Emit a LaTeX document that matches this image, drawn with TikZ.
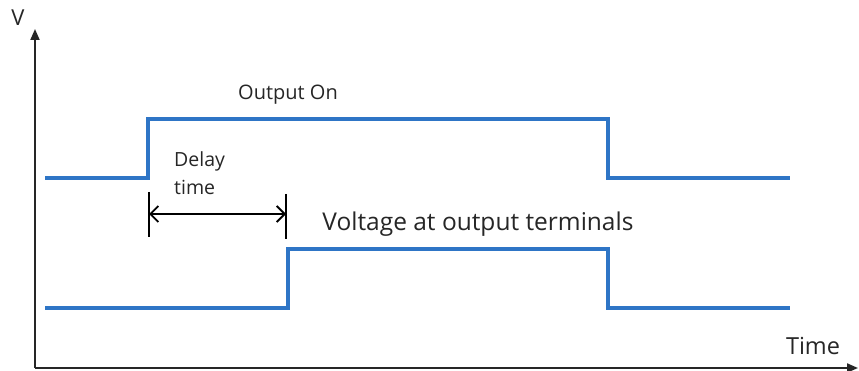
\documentclass[tikz,border=0pt]{standalone}
\usepackage{fontspec}
\setmainfont{Open Sans}
\usetikzlibrary{arrows.meta}
\definecolor{wave}{HTML}{2E75C6}
\definecolor{ink}{HTML}{262626}

\begin{document}
\begin{tikzpicture}[x=1pt,y=-1pt,
  axis/.style={draw=ink,line width=2pt,-{Triangle[length=11pt,width=9pt]}},
  sig/.style={draw=wave,line width=3.2pt,line join=miter},
  tick/.style={draw=black,line width=1.8pt},
  span/.style={draw=black,line width=1.8pt,
               {Straight Barb[length=8pt,width=16pt]}-{Straight Barb[length=8pt,width=16pt]}},
  lbl/.style={text=ink,inner sep=0pt,font=\fontsize{19.5}{28}\selectfont},
  big/.style={lbl,font=\fontsize{24.5}{28}\selectfont}]

\useasboundingbox (0,0) rectangle (859,371);

% axes
\coordinate (org) at (35,368);
\coordinate (vtop) at (35,29);
\coordinate (tend) at (858,368);
\draw[axis] (org) -- (vtop);
\draw[axis] (org) -- (tend);
\node[lbl,font=\fontsize{22}{24}\selectfont] (vlab) at (18,18) {V};
\node[big,font=\fontsize{23.5}{28}\selectfont] (tlab) at (813,346) {Time};

% output on / voltage at terminals
\draw[sig] (45,178) -- (148,178) -- (148,119) -- (608,119) -- (608,178) -- (790,178);
\draw[sig] (45,308) -- (288,308) -- (288,249) -- (608,249) -- (608,308) -- (790,308);
\node[lbl,font=\fontsize{20}{24}\selectfont] (outon) at (288,95) {Output On};
\node[big] (vterm) at (478,224) {Voltage at output terminals};

% delay marker
\coordinate (d1) at (149,214);
\coordinate (d2) at (286,214);
\draw[tick] (149,192) -- (149,237);
\draw[tick] (286,194) -- (286,239);
\draw[span] (d1) -- (d2);
\node[lbl,align=left,anchor=north west] (delay) at (174,151) {Delay\\time};
\end{tikzpicture}
\end{document}
